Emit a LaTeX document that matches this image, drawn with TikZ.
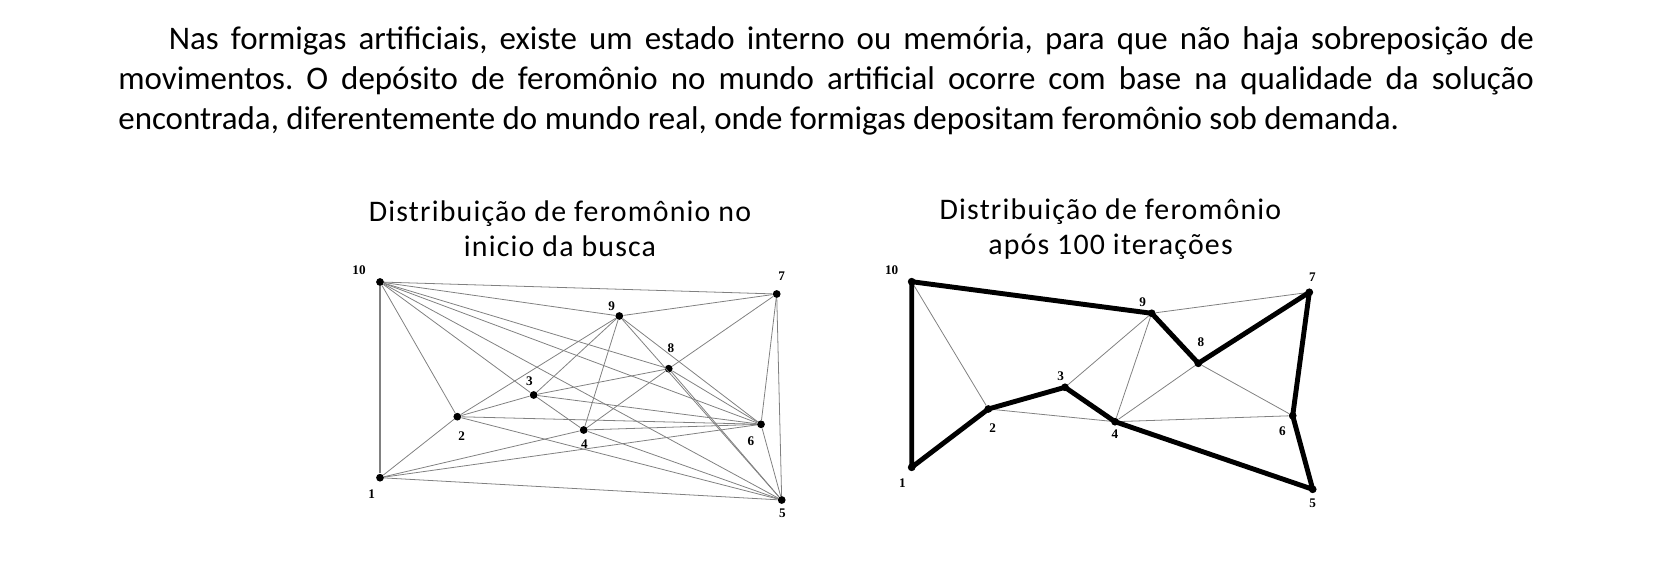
\documentclass[tikz,border=0pt]{standalone}
\usepackage{fontspec}
\setmainfont{Carlito}
\newfontfamily\numfont{Liberation Serif}
\newfontfamily\headfont[LetterSpace=4]{Carlito}
\usetikzlibrary{positioning}

\begin{document}
\begin{tikzpicture}[x=0.02cm,y=-0.02cm,
    vertex/.style={circle,fill=black,inner sep=0pt,minimum size=0.155cm},
    num/.style={font=\numfont\bfseries\fontsize{7.5}{7.5}\selectfont,inner sep=0pt},
    trail/.style={draw=black!50,line width=0.45pt},
    route/.style={draw=black,line width=2.8pt,line cap=round,line join=round},
    heading/.style={align=center,inner sep=0pt,font=\headfont\fontsize{17}{19.7}\selectfont}
]
\useasboundingbox (0,0) rectangle (1653,563);

\node[anchor=north west,inner sep=0pt,text width=28.32cm,align=justify,
      font=\frenchspacing\fontsize{18.75}{22.8}\selectfont] (intro) at (118,26)
  {\hspace*{1.01cm}Nas formigas artificiais, existe um estado interno ou memória, para que não haja sobreposição de\linebreak
   movimentos. O depósito de feromônio no mundo artificial ocorre com base na qualidade da solução\linebreak
   encontrada, diferentemente do mundo real, onde formigas depositam feromônio sob demanda.};

\node[heading] (head1) at (560,229) {Distribuição de feromônio no\\inicio da busca};
\node[heading] (head2) at (1110.5,229) {Distribuição de feromônio\\após 100 iterações};

% inicio da busca
\node[vertex] (l1) at (380,477.7) {};
\node[vertex] (l2) at (457.3,416.7) {};
\node[vertex] (l3) at (533.7,395) {};
\node[vertex] (l4) at (583.7,430) {};
\node[vertex] (l5) at (781.7,500) {};
\node[vertex] (l6) at (761,424.3) {};
\node[vertex] (l7) at (776.7,294) {};
\node[vertex] (l8) at (668.7,368.7) {};
\node[vertex] (l9) at (619.3,316) {};
\node[vertex] (l10) at (380,282) {};

\node[num] (lt1) at (371.7,494.3) {1};
\node[num] (lt2) at (461.7,436) {2};
\node[num] (lt3) at (529.3,381.7) {3};
\node[num] (lt4) at (584.3,444.3) {4};
\node[num] (lt5) at (782.3,513.3) {5};
\node[num] (lt6) at (751,441.7) {6};
\node[num] (lt7) at (781.7,276) {7};
\node[num] (lt8) at (671,347.7) {8};
\node[num] (lt9) at (611.7,306) {9};
\node[num] (lt10) at (359,270) {10};

\draw[trail,line width=1.1pt] (l10) -- (l1);
\foreach \a/\b in {10/7,10/9,10/8,10/6,10/5,10/3,10/2,
                   9/7,9/2,9/3,9/4,9/6,9/5,
                   8/7,8/3,8/4,8/6,8/5,
                   3/2,3/4,3/6,
                   2/1,2/6,2/5,
                   4/1,4/6,4/5,
                   1/6,1/5,6/5,7/6,7/5}
  \draw[trail] (l\a) -- (l\b);

% apos 100 iteracoes
\node[vertex] (r1) at (911.7,467.3) {};
\node[vertex] (r2) at (988.3,409) {};
\node[vertex] (r3) at (1065,387.3) {};
\node[vertex] (r4) at (1115,421.7) {};
\node[vertex] (r5) at (1312.7,489.3) {};
\node[vertex] (r6) at (1292.7,415.7) {};
\node[vertex] (r7) at (1309.3,292.3) {};
\node[vertex] (r8) at (1198.3,363.3) {};
\node[vertex] (r9) at (1151.7,313.3) {};
\node[vertex] (r10) at (911.7,281.7) {};

\node[num] (rt1) at (902.3,482.7) {1};
\node[num] (rt2) at (992.7,428.3) {2};
\node[num] (rt3) at (1060.7,376.7) {3};
\node[num] (rt4) at (1115,434.3) {4};
\node[num] (rt5) at (1312.7,503.3) {5};
\node[num] (rt6) at (1282.3,431.7) {6};
\node[num] (rt7) at (1312.3,276.7) {7};
\node[num] (rt8) at (1201,342.3) {8};
\node[num] (rt9) at (1142.7,302.7) {9};
\node[num] (rt10) at (891.7,270) {10};

\foreach \a/\b in {10/2,9/7,9/3,9/4,8/4,8/6,2/4,4/6}
  \draw[trail] (r\a) -- (r\b);
\draw[route] (r10.center) -- (r9.center) -- (r8.center) -- (r7.center) -- (r6.center)
  -- (r5.center) -- (r4.center) -- (r3.center) -- (r2.center) -- (r1.center) -- cycle;
\end{tikzpicture}
\end{document}
